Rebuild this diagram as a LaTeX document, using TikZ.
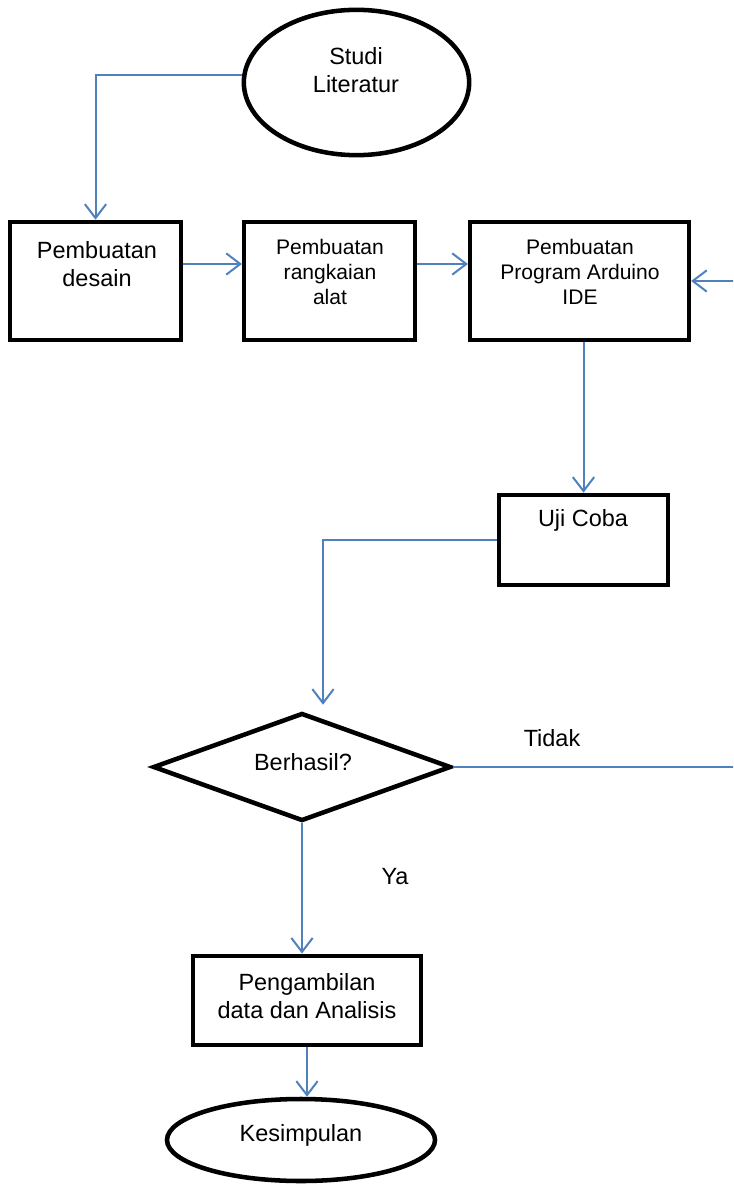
\documentclass[tikz,border=0pt]{standalone}
\usepackage{fontspec}
\setmainfont{Liberation Sans}
\usetikzlibrary{shapes.geometric,arrows.meta}
\definecolor{flowblue}{RGB}{79,129,189}

\begin{document}
\begin{tikzpicture}[x=0.75pt,y=-0.75pt,
    blok/.style={draw,line width=3.4pt,rectangle,inner sep=0pt},
    oval/.style={draw,line width=3.4pt,ellipse,inner sep=0pt},
    tanya/.style={draw,line width=3.4pt,diamond,inner sep=0pt},
    teks/.style={inner sep=0pt,align=center,font=\fontsize{17.6}{20.6}\selectfont},
    tekskecil/.style={inner sep=0pt,align=center,font=\fontsize{15.8}{18.8}\selectfont},
    panah/.style={draw=flowblue,line width=1.5pt,-{Straight Barb[length=10.5pt,width=16pt]}}]
    \path[use as bounding box,clip] (0,0) rectangle (733,1187);

    % bentuk
    \node[oval,minimum width=169pt,minimum height=109pt] (studi) at (356.5,82.5) {};
    \node[blok,minimum width=128pt,minimum height=88.5pt] (desain) at (95.5,281) {};
    \node[blok,minimum width=128pt,minimum height=88.5pt] (rangkaian) at (329.5,281) {};
    \node[blok,minimum width=164pt,minimum height=88.5pt] (program) at (579.5,281) {};
    \node[blok,minimum width=127pt,minimum height=67.5pt] (uji) at (583.5,540) {};
    \node[tanya,minimum width=223.5pt,minimum height=81pt] (berhasil) at (302,767) {};
    \node[blok,minimum width=171pt,minimum height=67pt] (ambil) at (307,1000.5) {};
    \node[oval,minimum width=201pt,minimum height=61.5pt] (kesimpulan) at (301,1140) {};

    % teks
    \node[teks] (studi-t) at (356,70) {Studi\\Literatur};
    \node[teks] (desain-t) at (97,264) {Pembuatan\\desain};
    \node[tekskecil] (rangkaian-t) at (330,272) {Pembuatan\\rangkaian\\alat};
    \node[tekskecil] (program-t) at (580,272) {Pembuatan\\Program Arduino\\IDE};
    \node[teks] (uji-t) at (583,520) {Uji Coba};
    \node[teks] (berhasil-t) at (303,762) {Berhasil?};
    \node[teks] (ambil-t) at (307,996) {Pengambilan\\data dan Analisis};
    \node[teks] (kesimpulan-t) at (301,1135) {Kesimpulan};
    \node[teks] (tidak) at (552,738) {Tidak};
    \node[teks] (ya) at (395,877) {Ya};

    % panah
    \coordinate (balik) at (745,281);
    \draw[panah] (studi.176) -| (desain.north);
    \draw[panah] ([yshift=12.75pt]desain.east) -- ([yshift=12.75pt]rangkaian.west);
    \draw[panah] ([yshift=12.75pt]rangkaian.east) -- ([yshift=12.75pt]program.west);
    \draw[panah] (berhasil.east) -| (balik) -- (program.east);
    \draw[panah] (uji.north |- program.south) -- (uji.north);
    \draw[panah] (uji.west) -| ([xshift=15.75pt,yshift=4.5pt]berhasil.north);
    \draw[panah] (berhasil.south) -- (berhasil.south |- ambil.north);
    \draw[panah] (ambil.south) -- (ambil.south |- kesimpulan.north);
\end{tikzpicture}
\end{document}
